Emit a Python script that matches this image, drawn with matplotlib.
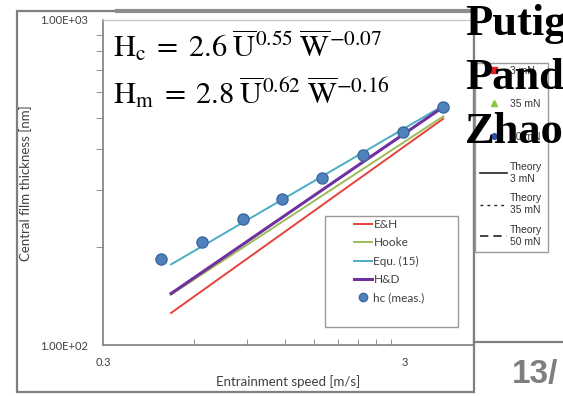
import numpy as np
import matplotlib
matplotlib.use("Agg")
import matplotlib.pyplot as plt
from matplotlib.lines import Line2D
from matplotlib.patches import Rectangle
from matplotlib.ticker import FixedLocator, NullFormatter

plt.rcParams['mathtext.fontset'] = 'stix'

# measured film thickness (hc)
speed_meas = [0.467, 0.638, 0.872, 1.174, 1.59, 2.18, 2.96, 4.01]
hc_meas = [184, 207, 244, 281, 326, 384, 452, 540]

# theory lines, read at both ends of the range
speed_theory = [0.504, 4.01]
h_eh = [125.5, 497]
h_hooke = [143, 505]
h_equ15 = [177, 545]
h_hd = [144, 540]

W, H = 563, 396
def fx(px):
    return px / W
def fy(py):
    return 1 - py / H

fig = plt.figure(figsize=(W / 100, H / 100), dpi=100)
ax = fig.add_axes([fx(103), fy(345), fx(473) - fx(103), fy(20) - fy(345)])

ax.plot(speed_theory, h_eh, color='#E8413C', lw=1.4, label='E&H')
ax.plot(speed_theory, h_hooke, color='#9BBB59', lw=1.4, label='Hooke')
ax.plot(speed_theory, h_equ15, color='#4BACC6', lw=1.4, label='Equ. (15)')
ax.plot(speed_theory, h_hd, color='#7030A0', lw=2.2, label='H&D')
ax.plot(speed_meas, hc_meas, 'o', color='#4F81BD', mec='#3A6AA0', ms=8, label='hc (meas.)')

ax.set_xscale('log')
ax.set_yscale('log')
ax.set_xlim(0.3, 5.03)
ax.set_ylim(100, 1000)

ax.xaxis.set_major_locator(FixedLocator([0.3, 3]))
ax.xaxis.set_minor_locator(FixedLocator([0.6, 0.9, 1.2, 1.5, 1.8, 2.1, 2.4, 2.7]))
ax.set_xticklabels(['0.3', '3'])
ax.xaxis.set_minor_formatter(NullFormatter())
ax.yaxis.set_major_locator(FixedLocator([100, 1000]))
ax.yaxis.set_minor_locator(FixedLocator([200, 300, 400, 500, 600, 700, 800, 900]))
ax.set_yticklabels(['1.00E+02', '1.00E+03'])
ax.yaxis.set_minor_formatter(NullFormatter())

ax.tick_params(axis='x', which='both', direction='in', colors='#808080', labelcolor='#404040',
               labelsize=8, pad=9)
ax.tick_params(axis='x', which='minor', length=4)
ax.tick_params(axis='x', which='major', length=0)
ax.tick_params(axis='y', which='both', direction='out', colors='#808080', labelcolor='#404040',
               labelsize=8, pad=11)
ax.tick_params(axis='y', which='minor', length=5)
ax.tick_params(axis='y', which='major', length=0)
for lab in ax.get_xticklabels() + ax.get_yticklabels():
    lab.set_family('Lato')

for s in ['left', 'bottom']:
    ax.spines[s].set_color('#808080')
    ax.spines[s].set_linewidth(1.2)
for s in ['top', 'right']:
    ax.spines[s].set_color('#C8C8C8')
    ax.spines[s].set_linewidth(1.0)

ax.set_xlabel('Entrainment speed [m/s]', family='Lato', fontsize=9.5, color='#404040', labelpad=5)
fig.text(fx(26), fy(183), 'Central film thickness [nm]', family='Lato', fontsize=9.5,
         color='#404040', rotation=90, ha='center', va='center')

# legend of the main chart
fig.patches.append(Rectangle((fx(325), fy(327)), fx(458) - fx(325), fy(216) - fy(327),
                             transform=fig.transFigure, fill=False, ec='#9A9A9A', lw=1.0))
leg = ax.legend(loc='upper left', bbox_to_anchor=(fx(354), fy(219)), bbox_transform=fig.transFigure,
                frameon=False, prop={'family': 'Lato', 'size': 8.5}, handlelength=1.5,
                handletextpad=0.15, labelspacing=0.62, borderpad=0, borderaxespad=0,
                markerscale=0.75)
for t in leg.get_texts():
    t.set_color('#404040')

# equations
ax.text(fx(113), fy(57), r'$\mathrm{H_c}\;=\;2.6\;\overline{\mathrm{U}}^{0.55}\;\overline{\mathrm{W}}^{-0.07}$',
        transform=fig.transFigure, fontsize=22, va='baseline', ha='left')
ax.text(fx(113), fy(104), r'$\mathrm{H_m}\;=\;2.8\;\overline{\mathrm{U}}^{0.62}\;\overline{\mathrm{W}}^{-0.16}$',
        transform=fig.transFigure, fontsize=22, va='baseline', ha='left')

# slide frame around the chart
fig.patches.append(Rectangle((fx(17), fy(392)), fx(474) - fx(17), fy(11) - fy(392),
                             transform=fig.transFigure, fill=False, ec='#7F7F7F', lw=1.6))
fig.lines.append(Line2D([fx(117), fx(474)], [fy(11), fy(11)], transform=fig.transFigure,
                        color='#8C8C8C', lw=3))
fig.lines.append(Line2D([fx(474), fx(563)], [fy(342), fy(342)], transform=fig.transFigure,
                        color='#7F7F7F', lw=1.6))

# second (cropped) legend on the right
fig.patches.append(Rectangle((fx(475), fy(252)), fx(548) - fx(475), fy(63) - fy(252),
                             transform=fig.transFigure, fill=True, fc='white', ec='#9A9A9A', lw=1.0))
handles_a = [
    Line2D([], [], ls='none', marker='s', color='#E02020', ms=4),
    Line2D([], [], ls='none', marker='^', color='#8DC63F', ms=4),
    Line2D([], [], ls='none', marker='o', color='#2B4EA8', ms=4),
]
labels_a = ['3 mN', '35 mN', '50 mN']
handles_b = [
    Line2D([], [], ls='-', color='#222222', lw=1.2),
    Line2D([], [], ls=(0, (2, 3)), color='#222222', lw=1.0),
    Line2D([], [], ls=(0, (5, 3)), color='#222222', lw=1.2),
]
labels_b = ['Theory\n3 mN', 'Theory\n35 mN', 'Theory\n50 mN']
leg_a = fig.legend(handles_a, labels_a, loc='upper left', bbox_to_anchor=(fx(480), fy(66)),
                   prop={'family': 'Liberation Sans', 'size': 7.5}, handlelength=2.6,
                   handletextpad=0.3, labelspacing=2.2, borderpad=0, borderaxespad=0,
                   frameon=False)
leg_b = fig.legend(handles_b, labels_b, loc='upper left', bbox_to_anchor=(fx(480), fy(162)),
                   prop={'family': 'Liberation Sans', 'size': 7.5}, handlelength=2.6,
                   handletextpad=0.3, labelspacing=0.95, borderpad=0, borderaxespad=0,
                   frameon=False)
for lg in (leg_a, leg_b):
    for t in lg.get_texts():
        t.set_color('#333333')

for name, yb in [('Putig', 35), ('Pand', 89), ('Zhao', 143)]:
    fig.text(fx(465), fy(yb), name, family='Liberation Serif', weight='bold', fontsize=32,
             va='baseline', ha='left', color='black', zorder=10)

fig.text(fx(512), fy(383), '13/', family='Liberation Sans', weight='bold', fontsize=24,
         va='baseline', ha='left', color='#7F7F7F')

fig.savefig('out.png', dpi=100)
